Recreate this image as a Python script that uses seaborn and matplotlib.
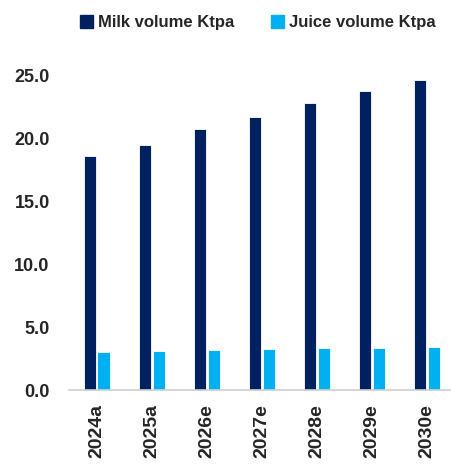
import pandas as pd
import seaborn as sns
import matplotlib.pyplot as plt

years = ['2024a', '2025a', '2026e', '2027e', '2028e', '2029e', '2030e']
milk = [18.6, 19.5, 20.8, 21.7, 22.8, 23.8, 24.7]
juice = [3.05, 3.12, 3.17, 3.25, 3.33, 3.39, 3.44]
series = ['Milk volume Ktpa', 'Juice volume Ktpa']
colors = ['#002060', '#00B0F0']

sns.set_style('white')
plt.rcParams['font.family'] = ['Liberation Sans', 'DejaVu Sans']

df = pd.DataFrame({
    'Year': years * 2,
    'Value': milk + juice,
    'Series': [series[0]] * len(years) + [series[1]] * len(years),
})

fig = plt.figure(figsize=(4.52, 4.65), dpi=100)
ax = fig.add_axes([0.153, 0.161, 0.852, 0.676])
sns.barplot(data=df, x='Year', y='Value', hue='Series', palette=colors,
            saturation=1, width=0.5, gap=0.12, edgecolor='white',
            linewidth=0.6, ax=ax, legend=False)
for p in ax.patches:
    p.set_clip_on(False)

ax.set_ylim(0, 25)
ax.set_yticks([0, 5, 10, 15, 20, 25])
ax.set_yticklabels([f'{v:.1f}' for v in [0, 5, 10, 15, 20, 25]],
                   fontsize=13, fontweight='bold')
ax.set_xlim(-0.5, 6.5)
ax.tick_params(axis='x', rotation=90, labelsize=14, length=0, pad=10)
for lbl in ax.get_xticklabels():
    lbl.set_fontweight('bold')
ax.tick_params(axis='y', length=0, pad=14)
ax.set_xlabel('')
ax.set_ylabel('')
for s in ['top', 'right', 'left']:
    ax.spines[s].set_visible(False)
ax.spines['bottom'].set_color('#d0d0d0')
ax.spines['bottom'].set_linewidth(1.2)

handles = [plt.Rectangle((0, 0), 1, 1, color=c) for c in colors]
fig.legend(handles, series, loc='upper center', bbox_to_anchor=(0.57, 1.0),
           ncol=2, frameon=False, handlelength=0.8, handleheight=0.8,
           handletextpad=0.3, columnspacing=2.2,
           prop={'weight': 'bold', 'size': 12})

fig.savefig('out.png', dpi=100)
